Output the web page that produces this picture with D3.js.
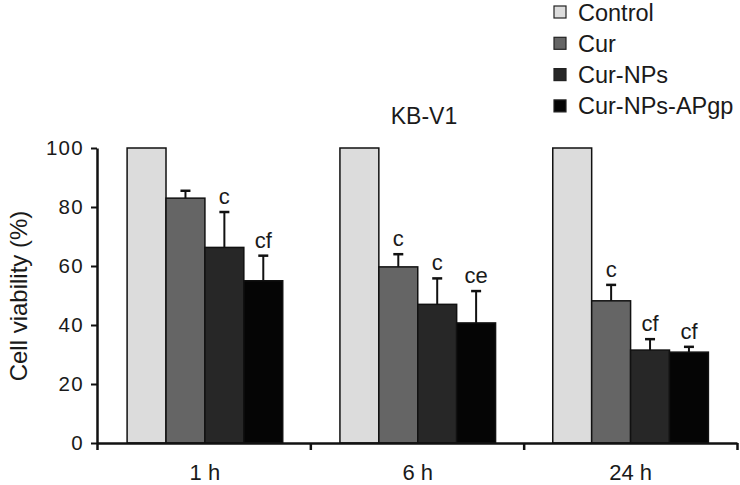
<!DOCTYPE html>
<html><head><meta charset="utf-8">
<script src="https://cdn.jsdelivr.net/npm/d3@7"></script>
<style>
body{margin:0;background:#fff;}
text{font-family:"Liberation Sans",Arial,sans-serif;fill:#1a1a1a;}
</style></head>
<body><svg id="c" width="740" height="485"></svg>
<script>
const groups = ["1 h", "6 h", "24 h"];
const series = ["Control", "Cur", "Cur-NPs", "Cur-NPs-APgp"];
const colors = ["#dcdcdc", "#656565", "#272727", "#050505"];
const values = [
  [100, 83, 66.3, 55],
  [100, 59.7, 47, 40.7],
  [100, 48.2, 31.5, 30.8]
];
const errors = [
  [0, 2.5, 12, 8.5],
  [0, 4.3, 8.8, 10.8],
  [0, 5.4, 3.7, 1.8]
];
const marks = [
  ["", "", "c", "cf"],
  ["", "c", "c", "ce"],
  ["", "c", "cf", "cf"]
];
const yTicks = [0, 20, 40, 60, 80, 100];
const title = "KB-V1";
const yLabel = "Cell viability (%)";

(function () {
const svg = d3.select("#c");
const mLeft = 97, mRight = 737, mTop = 148, mBottom = 443;

const y = d3.scaleLinear().domain([0, 100]).range([mBottom, mTop]);
const x0 = d3.scaleBand().domain(groups).range([mLeft + 1.5, mRight]).paddingInner(0).paddingOuter(0);
const x1 = d3.scaleBand().domain(series).range([0, x0.bandwidth()]).paddingInner(0).paddingOuter(0.735);
const color = d3.scaleOrdinal().domain(series).range(colors);
const xb = d3.scaleLinear().domain([0, groups.length]).range([mLeft, mRight]);

const g = svg.append("g");
groups.forEach((grp, gi) => {
  series.forEach((s, si) => {
    const v = values[gi][si];
    const bx = x0(grp) + x1(s);
    g.append("rect")
      .attr("x", bx).attr("y", y(v))
      .attr("width", x1.bandwidth()).attr("height", y(0) - y(v))
      .attr("fill", color(s)).attr("stroke", "#111").attr("stroke-width", 1.5);
    const e = errors[gi][si];
    const cx = bx + x1.bandwidth() / 2;
    if (e > 0) {
      g.append("line").attr("x1", cx).attr("x2", cx).attr("y1", y(v)).attr("y2", y(v + e))
        .attr("stroke", "#111").attr("stroke-width", 2);
      g.append("line").attr("x1", cx - 5).attr("x2", cx + 5).attr("y1", y(v + e)).attr("y2", y(v + e))
        .attr("stroke", "#111").attr("stroke-width", 2.5);
    }
    if (marks[gi][si]) {
      g.append("text").attr("x", cx).attr("y", y(v + e) - 8)
        .attr("text-anchor", "middle").attr("font-size", 22).text(marks[gi][si]);
    }
  });
});

const ya = svg.append("g").attr("transform", `translate(${mLeft},0)`)
  .call(d3.axisLeft(y).tickValues(yTicks).tickSize(6).tickSizeOuter(0).tickPadding(7));
ya.select(".domain").attr("stroke", "#111").attr("stroke-width", 2.5);
ya.selectAll(".tick line").attr("stroke", "#111").attr("stroke-width", 2);
ya.selectAll(".tick text").attr("font-size", 20.5).attr("letter-spacing", "1.3px")
  .attr("font-family", "DejaVu Sans, sans-serif").attr("fill", "#1a1a1a");

const xa = svg.append("g").attr("transform", `translate(0,${mBottom})`)
  .call(d3.axisBottom(xb).tickValues([0, 1, 2, 3]).tickFormat("").tickSize(7).tickSizeOuter(0));
xa.select(".domain").attr("stroke", "#111").attr("stroke-width", 2.5);
xa.selectAll(".tick line").attr("stroke", "#111").attr("stroke-width", 2.5);
svg.append("g").selectAll("text").data(groups).join("text")
  .attr("x", d => x0(d) + x0.bandwidth() / 2).attr("y", 480)
  .attr("text-anchor", "middle").attr("font-size", 22).text(d => d);

svg.append("text").attr("transform", "translate(27,296) rotate(-90)")
  .attr("text-anchor", "middle").attr("font-size", 24).text(yLabel);

svg.append("text").attr("x", 424).attr("y", 124).attr("text-anchor", "middle")
  .attr("font-size", 23).text(title);

const lg = svg.append("g");
series.forEach((s, i) => {
  const cy = 12 + i * 31.3;
  lg.append("rect").attr("x", 554).attr("y", cy - 6).attr("width", 12).attr("height", 12)
    .attr("fill", color(s)).attr("stroke", "#222").attr("stroke-width", 1.2);
  lg.append("text").attr("x", 578).attr("y", cy + 8.5).attr("font-size", 23.5).text(s);
});
})();
</script></body></html>
